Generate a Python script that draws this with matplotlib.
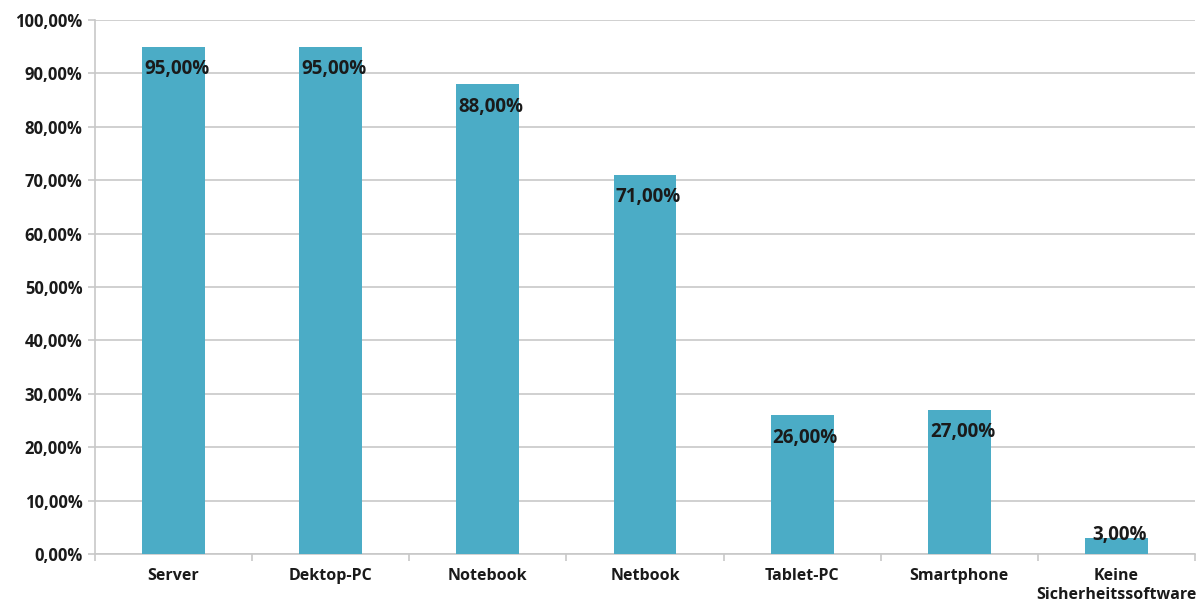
import matplotlib

matplotlib.use("Agg")

import matplotlib.pyplot as plt  # noqa: E402
from matplotlib.ticker import FixedLocator, FuncFormatter  # noqa: E402

# data
categories = [
    "Server",
    "Dektop-PC",
    "Notebook",
    "Netbook",
    "Tablet-PC",
    "Smartphone",
    "Keine\nSicherheitssoftware",
]
shares = [95, 95, 88, 71, 26, 27, 3]
y_ticks = list(range(0, 101, 10))

BAR_COLOR = "#4BACC6"
GRID_COLOR = "#C8C8C8"
TEXT_COLOR = "#1a1a1a"
FONT = ["Open Sans", "DejaVu Sans"]


def pct_de(v):
    return f"{v:.2f}".replace(".", ",") + "%"


plt.rcParams["font.family"] = FONT
plt.rcParams["font.weight"] = "bold"

fig = plt.figure(figsize=(11.98, 6.03), dpi=100)
ax = fig.add_axes([95 / 1198, 1 - 554 / 603, 1100 / 1198, 534 / 603])

x = list(range(len(categories)))
ax.bar(x, shares, width=0.4, color=BAR_COLOR, zorder=3)

for xi, v in zip(x, shares):
    y_lab = max(v - 4.2, 3.6)
    ax.text(xi + 0.02, y_lab, pct_de(v), ha="center", va="center",
            fontsize=13.5, fontweight="bold", color=TEXT_COLOR, zorder=4)

ax.set_xlim(-0.5, len(categories) - 0.5)
ax.set_ylim(0, 100)
ax.set_yticks(y_ticks)
ax.yaxis.set_major_formatter(FuncFormatter(lambda v, _: pct_de(v)))
ax.yaxis.grid(True, color=GRID_COLOR, linewidth=1.2, zorder=0)

ax.set_xticks(x)
ax.set_xticklabels(categories, fontsize=11.5, fontweight="bold", linespacing=1.25,
                   color=TEXT_COLOR)
ax.tick_params(axis="x", length=0, pad=10)
ax.xaxis.set_minor_locator(FixedLocator([i + 0.5 for i in range(-1, len(categories))]))
ax.tick_params(axis="x", which="minor", length=5, color=GRID_COLOR, width=1.2)
ax.tick_params(axis="y", length=5, color=GRID_COLOR, width=1.2, labelsize=12,
               labelcolor=TEXT_COLOR, pad=4)

for side in ["top", "right"]:
    ax.spines[side].set_visible(False)
for side in ["left", "bottom"]:
    ax.spines[side].set_color(GRID_COLOR)
    ax.spines[side].set_linewidth(1.2)

fig.savefig("out.png", dpi=100)
